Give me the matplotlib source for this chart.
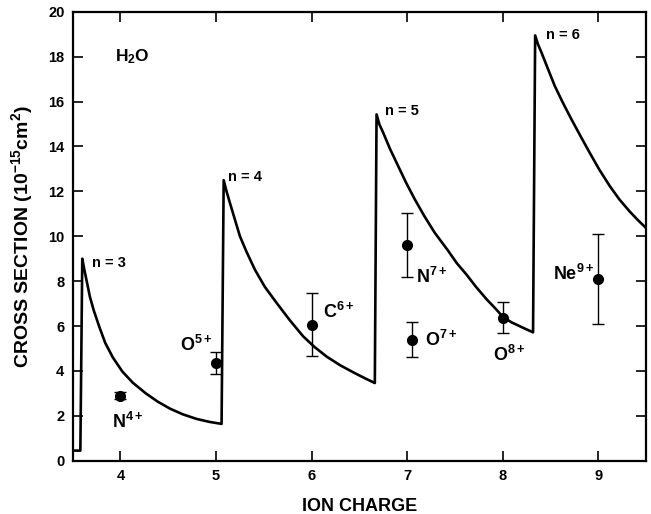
import matplotlib
matplotlib.use("Agg")
from matplotlib import pyplot as plt

plt.rcParams['font.family'] = ['Liberation Sans', 'DejaVu Sans']
plt.rcParams['font.weight'] = 'bold'
plt.rcParams['mathtext.fontset'] = 'custom'
plt.rcParams['mathtext.rm'] = 'Liberation Sans:bold'
plt.rcParams['mathtext.bf'] = 'Liberation Sans:bold'
plt.rcParams['mathtext.it'] = 'Liberation Sans:bold'

# theory curve (sawtooth, n = 3..6)
curve_x = [3.50, 3.58,
           3.60, 3.62, 3.643, 3.68, 3.72, 3.777, 3.84, 3.92, 4.02, 4.13, 4.265,
           4.39, 4.518, 4.65, 4.797, 4.93, 5.058,
           5.08, 5.11, 5.145, 5.19, 5.25, 5.32, 5.407, 5.51, 5.634, 5.77, 5.912,
           6.03, 6.157, 6.30, 6.453, 6.56, 6.662,
           6.68, 6.71, 6.749, 6.82, 6.906, 6.99, 7.081, 7.18, 7.29, 7.43, 7.52,
           7.62, 7.72, 7.83, 7.92, 8.0, 8.09, 8.18, 8.25, 8.318,
           8.34, 8.37, 8.406, 8.47, 8.545, 8.63, 8.72, 8.81, 8.911, 9.01, 9.122,
           9.22, 9.33, 9.42, 9.5]
curve_y = [0.45, 0.45,
           9.0, 8.55, 8.07, 7.3, 6.7, 5.98, 5.25, 4.6, 3.97, 3.47, 3.0,
           2.63, 2.32, 2.07, 1.86, 1.73, 1.64,
           12.5, 12.0, 11.49, 10.85, 10.0, 9.3, 8.51, 7.75, 7.03, 6.27, 5.54,
           5.07, 4.64, 4.25, 3.90, 3.67, 3.46,
           15.43, 14.98, 14.62, 13.9, 13.13, 12.38, 11.64, 10.9, 10.15, 9.35, 8.8,
           8.3, 7.75, 7.2, 6.8, 6.42, 6.17, 5.99, 5.85, 5.72,
           18.95, 18.55, 18.19, 17.5, 16.70, 15.95, 15.21, 14.5, 13.72, 12.98, 12.23,
           11.65, 11.1, 10.7, 10.37]

# measured cross sections
ion_x = [4, 5, 6, 7, 7.05, 8, 9]
ion_y = [2.9, 4.35, 6.05, 9.6, 5.4, 6.38, 8.1]
ion_err = [0.15, 0.5, 1.4, 1.42, 0.8, 0.68, 2.0]
ion_names = ['N$^{4+}$', 'O$^{5+}$', 'C$^{6+}$', 'N$^{7+}$', 'O$^{7+}$', 'O$^{8+}$', 'Ne$^{9+}$']
label_x = [3.91, 4.625, 6.12, 7.098, 7.185, 7.90, 8.527]
label_y = [1.47, 4.87, 6.36, 7.92, 5.09, 4.45, 8.04]

shell_names = ['n = 3', 'n = 4', 'n = 5', 'n = 6']
shell_x = [3.70, 5.126, 6.767, 8.452]
shell_y = [8.82, 12.66, 15.57, 18.96]

fig = plt.figure(figsize=(6.51, 5.14), dpi=100)
ax = fig.add_axes([0.1117, 0.1037, 0.8806, 0.8733])

ax.plot(curve_x, curve_y, color='black', lw=1.9)
ax.errorbar(ion_x, ion_y, yerr=ion_err, fmt='o', color='black', ms=7,
            elinewidth=1.0, capsize=4, capthick=1.0)

for name, x, y in zip(ion_names, label_x, label_y):
    ax.text(x, y, name, fontsize=13, fontweight='bold', ha='left', va='baseline')
for name, x, y in zip(shell_names, shell_x, shell_y):
    ax.text(x, y, name, fontsize=10.5, fontweight='bold', ha='left', va='center')
ax.text(3.942, 17.81, 'H$_2$O', fontsize=12.5, fontweight='bold', ha='left', va='baseline')

ax.set_xlim(3.5, 9.5)
ax.set_ylim(0, 20)
ax.set_xticks([4, 5, 6, 7, 8, 9])
ax.set_yticks(range(0, 21, 2))
ax.tick_params(direction='in', length=7, width=1.2, top=True, right=True,
               labelsize=10.5, pad=6)
for lbl in ax.get_xticklabels() + ax.get_yticklabels():
    lbl.set_fontweight('bold')
for s in ax.spines.values():
    s.set_linewidth(1.6)

ax.set_xlabel('ION CHARGE', fontsize=13, fontweight='bold')
ax.set_ylabel('CROSS SECTION (10$^{-15}$cm$^{2}$)', fontsize=14, fontweight='bold')
ax.xaxis.set_label_coords(0.5, -0.083)
ax.yaxis.set_label_coords(-0.066, 0.5)

fig.savefig('out.png', dpi=100)
